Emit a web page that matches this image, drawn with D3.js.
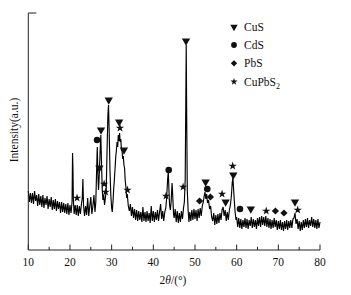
<!DOCTYPE html>
<html><head><meta charset="utf-8">
<script src="https://cdn.jsdelivr.net/npm/d3@7"></script>
<style>body{margin:0;background:#fff}svg{display:block}text{font-family:"Liberation Serif","Times New Roman",serif;fill:#111}</style>
</head><body><svg id="c" width="351" height="295"></svg>
<script>
// 2θ (deg), intensity (a.u.)
const pattern = [
[10.00,59],[10.25,48],[10.50,57],[10.75,47],[11.00,57],[11.25,46],[11.50,59],[11.75,49],[12.00,55],[12.25,44],
[12.50,56],[12.75,45],[13.00,54],[13.25,43],[13.50,55],[13.75,42],[14.00,52],[14.25,45],[14.50,54],[14.75,41],
[15.00,51],[15.25,43],[15.50,53],[15.75,40],[16.00,50],[16.25,41],[16.50,51],[16.75,39],[17.00,49],[17.25,41],
[17.50,48],[17.75,37],[18.00,48],[18.25,38],[18.50,47],[18.75,37],[19.00,46],[19.25,36],[19.50,47],[19.75,35],
[20.00,45],[20.25,37],[20.50,48],[20.62,97],[20.72,80],[20.82,50],[21.00,36],[21.25,45],[21.50,35],[21.75,45],
[22.00,34],[22.25,44],[22.50,36],[22.75,46],[22.95,52],[23.10,71],[23.25,45],[23.50,34],[23.75,44],[24.00,35],
[24.25,52],[24.50,34],[24.75,44],[25.00,53],[25.25,36],[25.50,44],[25.75,55],[26.00,38],[26.20,48],[26.40,80],
[26.55,103],[26.70,75],[26.85,60],[27.00,72],[27.20,95],[27.40,115],[27.55,90],[27.75,60],[27.90,50],[28.10,55],
[28.30,45],[28.50,52],[28.70,60],[28.90,100],[29.10,135],[29.25,145],[29.40,120],[29.60,80],[29.80,55],[30.00,42],
[30.15,38],[30.35,50],[30.50,62],[30.65,70],[30.85,84],[31.00,94],[31.15,100],[31.30,108],[31.45,103],[31.60,115],
[31.75,109],[31.90,117],[32.05,108],[32.20,111],[32.35,100],[32.50,99],[32.65,91],[32.80,94],[32.95,85],[33.10,82],
[33.25,70],[33.45,62],[33.60,52],[33.75,56],[34.00,44],[34.25,39],[34.50,46],[34.75,34],[35.00,43],[35.25,32],
[35.50,41],[35.75,30],[36.00,40],[36.25,29],[36.50,39],[36.75,30],[37.00,38],[37.25,28],[37.50,43],[37.75,29],
[38.00,38],[38.25,28],[38.50,39],[38.75,29],[39.00,37],[39.25,27],[39.50,44],[39.75,29],[40.00,39],[40.25,28],
[40.50,38],[40.75,30],[41.00,40],[41.25,29],[41.50,38],[41.75,46],[42.00,31],[42.25,39],[42.50,29],[42.75,38],
[43.00,42],[43.20,52],[43.45,72],[43.60,78],[43.75,60],[43.90,45],[44.10,40],[44.30,50],[44.50,67],[44.65,55],
[44.85,36],[45.00,32],[45.25,41],[45.50,28],[45.75,39],[46.00,27],[46.25,37],[46.50,28],[46.75,39],[47.00,31],
[47.25,42],[47.45,48],[47.65,70],[47.80,150],[47.90,205],[48.00,140],[48.15,60],[48.35,40],[48.55,28],[48.75,38],
[49.00,29],[49.25,40],[49.50,30],[49.75,41],[50.00,31],[50.25,40],[50.50,29],[50.75,41],[51.00,32],[51.25,42],
[51.50,34],[51.75,44],[52.00,48],[52.20,54],[52.40,58],[52.60,51],[52.80,56],[53.00,47],[53.25,50],[53.50,41],
[53.75,44],[54.00,33],[54.25,29],[54.50,37],[54.75,25],[55.00,35],[55.25,26],[55.50,36],[55.75,27],[56.00,37],
[56.25,30],[56.50,40],[56.75,43],[57.00,34],[57.25,40],[57.50,29],[57.75,38],[58.00,30],[58.25,40],[58.50,45],
[58.75,55],[58.95,68],[59.10,72],[59.25,62],[59.45,48],[59.65,37],[59.85,30],[60.00,33],[60.25,23],[60.50,32],
[60.75,22],[61.00,31],[61.25,21],[61.50,30],[61.75,23],[62.00,32],[62.25,22],[62.50,31],[62.75,21],[63.00,30],
[63.25,24],[63.50,33],[63.75,22],[64.00,31],[64.25,23],[64.50,30],[64.75,21],[65.00,32],[65.25,24],[65.50,33],
[65.75,23],[66.00,34],[66.25,25],[66.50,33],[66.75,24],[67.00,34],[67.25,23],[67.50,32],[67.75,22],[68.00,31],
[68.25,21],[68.50,30],[68.75,22],[69.00,32],[69.25,23],[69.50,30],[69.75,20],[70.00,29],[70.25,21],[70.50,30],
[70.75,20],[71.00,28],[71.25,19],[71.50,29],[71.75,21],[72.00,30],[72.25,20],[72.50,29],[72.75,22],[73.00,30],
[73.25,22],[73.50,31],[73.75,32],[74.00,37],[74.25,26],[74.50,31],[74.75,21],[75.00,29],[75.25,19],[75.50,28],
[75.75,20],[76.00,30],[76.25,22],[76.50,31],[76.75,23],[77.00,32],[77.25,22],[77.50,30],[77.75,24],[78.00,33],
[78.25,23],[78.50,31],[78.75,22],[79.00,30],[79.25,21],[79.50,31],[79.75,22],[80.00,28]
];
const cuS = [[27.45,120],[27.05,82],[29.3,150],[31.8,128],[32.95,100],[47.85,209],[52.55,68],[57.35,48],[59.2,75],[63.4,41],[74.0,48]];
const cdS = [[26.5,110],[43.7,80],[52.95,61],[60.8,41]];
const pbS = [[51.1,49],[53.7,53],[69.3,39],[71.35,37]];
const cuPbS2 = [[21.7,52],[28.2,66],[28.55,58],[32.0,122],[33.8,60],[43.05,54],[47.15,63],[56.5,56],[59.05,84],[67.1,39],[74.65,40]];
const xTicks = [10,20,30,40,50,60,70,80];
const xMinor = [15,25,35,45,55,65,75];
const legendNames = ["CuS","CdS","PbS","CuPbS"];

const svg = d3.select("#c");
const x = d3.scaleLinear().domain([10,80]).range([28.3,320]);
const y = d3.scaleLinear().domain([0,237]).range([250,13]);

// curve
svg.append("path").datum(pattern)
  .attr("d", d3.line().x(d=>x(d[0])).y(d=>y(d[1])))
  .attr("fill","none").attr("stroke","#000").attr("stroke-width",1.15);

// axes
const g = svg.append("g");
g.append("line").attr("x1",x(10)).attr("x2",x(80)).attr("y1",250).attr("y2",250).attr("stroke","#222");
g.append("line").attr("x1",x(10)).attr("x2",x(10)).attr("y1",y(237)).attr("y2",250).attr("stroke","#222");
g.append("line").attr("x1",x(10)).attr("x2",x(10)+8).attr("y1",y(237)).attr("y2",y(237)).attr("stroke","#222");
g.selectAll(".mj").data(xTicks).join("line").attr("x1",d=>x(d)).attr("x2",d=>x(d)).attr("y1",250).attr("y2",244.5).attr("stroke","#222");
g.selectAll(".mn").data(xMinor).join("line").attr("x1",d=>x(d)).attr("x2",d=>x(d)).attr("y1",250).attr("y2",246.8).attr("stroke","#222");
g.selectAll(".tl").data(xTicks).join("text").attr("x",d=>x(d)).attr("y",266).attr("text-anchor","middle").attr("font-size",11.5).text(d=>d);

const xl = svg.append("text").attr("x",173).attr("y",284).attr("text-anchor","middle").attr("font-size",11.5);
xl.append("tspan").text("2");
xl.append("tspan").attr("font-style","italic").text("θ");
xl.append("tspan").text("/(°)");
svg.append("text").attr("transform","translate(18,130) rotate(-90)").attr("text-anchor","middle").attr("font-size",11.5).text("Intensity(a.u.)");

// markers
const tri = d3.symbol().type(d3.symbolTriangle).size(30)();
const cir = d3.symbol().type(d3.symbolCircle).size(34)();
const dia = d3.symbol().type(d3.symbolSquare).size(26)();
const star = d3.symbol().type(d3.symbolStar).size(22)();
function marks(data, path, rot){
  svg.append("g").selectAll("path").data(data).join("path")
    .attr("d", path).attr("fill","#111")
    .attr("transform", d=>`translate(${x(d[0])},${y(d[1])}) rotate(${rot})`);
}
marks(cuS, tri, 180);
marks(cdS, cir, 0);
marks(pbS, dia, 45);
marks(cuPbS2, star, 0);

// legend
const lg = svg.append("g");
const rows = [27,45,63.3,81.7];
const syms = [[d3.symbolTriangle,180,24],[d3.symbolCircle,0,26],[d3.symbolSquare,45,20],[d3.symbolStar,0,16]];
rows.forEach((ry,i)=>{
  lg.append("path").attr("d", d3.symbol().type(syms[i][0]).size(syms[i][2])())
    .attr("fill","#111").attr("transform",`translate(234,${ry}) rotate(${syms[i][1]})`);
  const t = lg.append("text").attr("x",244).attr("y",ry+4).attr("font-size",11.5);
  t.append("tspan").text(legendNames[i]);
  if(i===3) t.append("tspan").attr("font-size",8).attr("dy",3).text("2");
});
</script></body></html>
